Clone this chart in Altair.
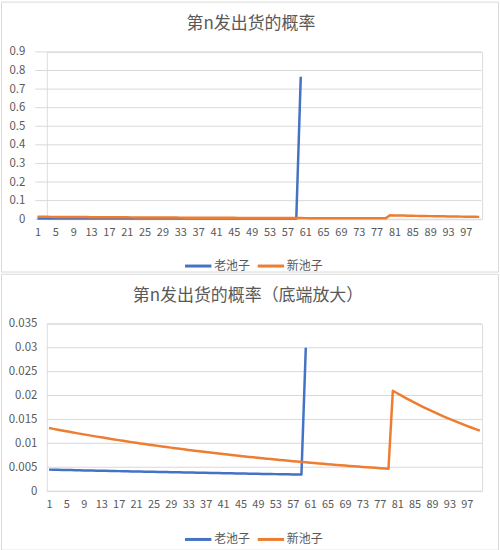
import altair as alt
import pandas as pd

# x categories: pull number 1..100
pulls = list(range(1, 101))
x_tick_labels = list(range(1, 101, 4))

series_names = ["老池子", "新池子"]
series_colors = ["#4472C4", "#ED7D31"]

# 老池子 (old pool): values for pulls 1..60
old_pool = [
    0.004500, 0.004480, 0.004460, 0.004440, 0.004420, 0.004400, 0.004380, 0.004360, 0.004341, 0.004321,
    0.004302, 0.004282, 0.004263, 0.004244, 0.004225, 0.004206, 0.004187, 0.004168, 0.004149, 0.004130,
    0.004112, 0.004093, 0.004075, 0.004057, 0.004038, 0.004020, 0.004002, 0.003984, 0.003966, 0.003948,
    0.003931, 0.003913, 0.003895, 0.003878, 0.003860, 0.003843, 0.003826, 0.003808, 0.003791, 0.003774,
    0.003757, 0.003740, 0.003723, 0.003707, 0.003690, 0.003673, 0.003657, 0.003640, 0.003624, 0.003608,
    0.003591, 0.003575, 0.003559, 0.003543, 0.003527, 0.003511, 0.003496, 0.003480, 0.003464, 0.766,
]

# 新池子 (new pool): values for pulls 1..100
new_pool = [
    0.013200, 0.013026, 0.012854, 0.012684, 0.012517, 0.012352, 0.012189, 0.012028, 0.011869, 0.011712,
    0.011557, 0.011405, 0.011254, 0.011106, 0.010959, 0.010814, 0.010672, 0.010531, 0.010392, 0.010255,
    0.010119, 0.009986, 0.009854, 0.009724, 0.009595, 0.009469, 0.009344, 0.009220, 0.009099, 0.008979,
    0.008860, 0.008743, 0.008628, 0.008514, 0.008402, 0.008291, 0.008181, 0.008073, 0.007967, 0.007862,
    0.007758, 0.007655, 0.007554, 0.007455, 0.007356, 0.007259, 0.007163, 0.007069, 0.006975, 0.006883,
    0.006792, 0.006703, 0.006614, 0.006527, 0.006441, 0.006356, 0.006272, 0.006189, 0.006108, 0.006027,
    0.005948, 0.005869, 0.005792, 0.005715, 0.005640, 0.005565, 0.005492, 0.005419, 0.005348, 0.005277,
    0.005208, 0.005139, 0.005071, 0.005004, 0.004938, 0.004873, 0.004809, 0.004745, 0.004683, 0.021000,
    0.020475, 0.019963, 0.019464, 0.018977, 0.018503, 0.018040, 0.017589, 0.017149, 0.016720, 0.016302,
    0.015894, 0.015497, 0.015110, 0.014732, 0.014364, 0.014005, 0.013655, 0.013314, 0.012981, 0.012656,
]

top_y_ticks = [0, 0.1, 0.2, 0.3, 0.4, 0.5, 0.6, 0.7, 0.8, 0.9]
bottom_y_ticks = [0, 0.005, 0.01, 0.015, 0.02, 0.025, 0.03, 0.035]

df = pd.concat([
    pd.DataFrame({"n": pulls[:len(old_pool)], "p": old_pool, "s": series_names[0]}),
    pd.DataFrame({"n": pulls, "p": new_pool, "s": series_names[1]}),
], ignore_index=True)

FONT = "Noto Sans CJK SC"
TXT = "#595959"
GRID = "#d9d9d9"
W, H = 437, 168


def panel(title, tx, ty, ymax, yticks, xr, yoff, frame, lx, ly, cap=None):
    base = alt.Chart(df)
    if cap is not None:
        base = base.transform_calculate(v=f"min(datum.p, {cap})")
    else:
        base = base.transform_calculate(v="datum.p")

    x = alt.X("n:Q", scale=alt.Scale(domain=[0.5, 100.5], range=xr, nice=False, zero=False),
              axis=alt.Axis(values=x_tick_labels, title=None, grid=False, ticks=False, tickSize=0,
                            domain=False, labelFontSize=11, labelColor=TXT, labelFont=FONT,
                            labelPadding=7, labelFlush=False, labelOverlap=False, format="d"))
    yscale = alt.Scale(domain=[0, ymax], nice=False, zero=True)
    yaxis = alt.Axis(values=yticks, format="~g", title=None, grid=False, domain=False,
                     ticks=False, tickSize=0, labelPadding=10, offset=yoff,
                     labelFontSize=11.5, labelColor=TXT, labelFont=FONT, minExtent=0)
    color = alt.Color("s:N", scale=alt.Scale(domain=series_names, range=series_colors),
                      legend=alt.Legend(orient="none", legendX=lx, legendY=ly, direction="horizontal",
                                        title=None, symbolType="stroke", symbolStrokeWidth=3,
                                        symbolSize=700, labelFontSize=12, labelColor=TXT,
                                        labelFont=FONT, columnPadding=0, labelOffset=1, padding=0))

    one = pd.DataFrame({"k": [0]})
    fx, fx2, fy, fy2 = frame
    frame_layer = alt.Chart(one).mark_rect(
        filled=False, stroke=GRID, strokeWidth=1
    ).encode(x=alt.value(fx), x2=alt.value(fx2), y=alt.value(fy), y2=alt.value(fy2))

    grid_layer = alt.Chart(pd.DataFrame({"v": yticks})).mark_rule(
        color=GRID, strokeWidth=1
    ).encode(y=alt.Y("v:Q", scale=yscale, axis=yaxis),
             x=alt.value(xr[0]), x2=alt.value(xr[1]))

    title_layer = alt.Chart(one).mark_text(
        text=title, font=FONT, fontSize=17, color=TXT, align="center", baseline="middle"
    ).encode(x=alt.value(tx), y=alt.value(ty))

    y = alt.Y("v:Q", scale=yscale, axis=yaxis)
    old_line = base.transform_filter(alt.datum.s == series_names[0]).mark_line(
        strokeWidth=2.5, strokeJoin="round").encode(x=x, y=y, color=color)
    new_line = base.transform_filter(alt.datum.s == series_names[1]).mark_line(
        strokeWidth=2.5, strokeJoin="round").encode(x=x, y=y, color=color)

    return alt.layer(frame_layer, grid_layer, title_layer, old_line, new_line).properties(
        width=W, height=H)


# plot origin of both panels sits 46 px from the left edge
top = panel("第n发出货的概率", 205, -28, 0.9, top_y_ticks, [-11.6, 436.4], 12,
            (-45.5, 453.5, -50.0, 221.0), 137, 200)
bottom = panel("第n发出货的概率（底端放大）", 202, -28, 0.035, bottom_y_ticks, [0, 437], 0,
               (-45.5, 453.5, -49.7, 227.3), 137, 201.5, cap=0.03)

chart = alt.vconcat(top, bottom, spacing=0).resolve_legend(
    color="independent"
).properties(padding=0).configure_view(stroke="transparent").configure(background="white")

chart.save("out.html", embed_options={"renderer": "svg", "actions": False})
